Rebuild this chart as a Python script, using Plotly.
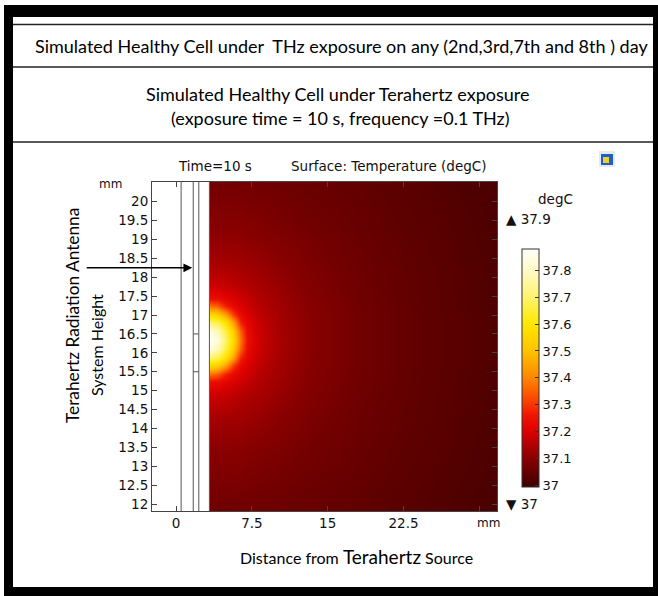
import plotly.graph_objects as go

# ---------------- data ----------------
x_grid_mm = [3.3, 4.1, 4.9, 5.7, 6.4, 7.1, 8.25, 10.2, 13.2, 18.1, 24.1, 32.0]
y_grid_mm = [11.80, 13.43, 14.30, 14.88, 15.23, 15.44, 15.64, 15.87, 16.11, 16.34,
             16.57, 16.81, 17.04, 17.24, 17.45, 17.80, 18.38, 19.25, 20.55]
temperature_degC = [
    [37.062, 37.062, 37.062, 37.061, 37.061, 37.060, 37.059, 37.056, 37.051, 37.041, 37.026, 37.009],
    [37.100, 37.100, 37.100, 37.100, 37.100, 37.094, 37.090, 37.082, 37.069, 37.053, 37.035, 37.014],
    [37.137, 37.136, 37.134, 37.131, 37.128, 37.124, 37.117, 37.101, 37.082, 37.058, 37.039, 37.015],
    [37.180, 37.178, 37.172, 37.164, 37.154, 37.146, 37.136, 37.117, 37.090, 37.061, 37.040, 37.017],
    [37.240, 37.232, 37.215, 37.200, 37.184, 37.169, 37.146, 37.124, 37.094, 37.063, 37.041, 37.017],
    [37.374, 37.348, 37.273, 37.228, 37.205, 37.184, 37.154, 37.128, 37.096, 37.064, 37.041, 37.017],
    [37.550, 37.518, 37.430, 37.299, 37.228, 37.200, 37.164, 37.131, 37.098, 37.065, 37.042, 37.018],
    [37.700, 37.664, 37.576, 37.430, 37.273, 37.215, 37.172, 37.134, 37.099, 37.065, 37.042, 37.018],
    [37.830, 37.776, 37.664, 37.518, 37.348, 37.232, 37.178, 37.136, 37.100, 37.065, 37.042, 37.018],
    [37.870, 37.830, 37.700, 37.550, 37.374, 37.240, 37.180, 37.137, 37.100, 37.065, 37.042, 37.018],
    [37.830, 37.776, 37.664, 37.518, 37.348, 37.232, 37.178, 37.136, 37.100, 37.065, 37.042, 37.018],
    [37.700, 37.664, 37.576, 37.430, 37.273, 37.215, 37.172, 37.134, 37.099, 37.065, 37.042, 37.018],
    [37.550, 37.518, 37.430, 37.299, 37.228, 37.200, 37.164, 37.131, 37.098, 37.065, 37.042, 37.018],
    [37.374, 37.348, 37.273, 37.228, 37.205, 37.184, 37.154, 37.128, 37.096, 37.064, 37.041, 37.017],
    [37.240, 37.232, 37.215, 37.200, 37.184, 37.169, 37.146, 37.124, 37.094, 37.063, 37.041, 37.017],
    [37.180, 37.178, 37.172, 37.164, 37.154, 37.146, 37.136, 37.117, 37.090, 37.061, 37.040, 37.017],
    [37.137, 37.136, 37.134, 37.131, 37.128, 37.124, 37.117, 37.101, 37.082, 37.058, 37.039, 37.015],
    [37.100, 37.100, 37.100, 37.100, 37.100, 37.094, 37.090, 37.082, 37.069, 37.053, 37.035, 37.014],
    [37.068, 37.068, 37.068, 37.067, 37.067, 37.066, 37.064, 37.060, 37.054, 37.043, 37.029, 37.010],
]
t_min, t_max = 36.993, 37.88
colorbar_ticks = [37.0, 37.1, 37.2, 37.3, 37.4, 37.5, 37.6, 37.7, 37.8]
colorbar_labels = ["37", "37.1", "37.2", "37.3", "37.4", "37.5", "37.6", "37.7", "37.8"]

x_ticks = [0, 7.5, 15, 22.5, 30]
x_ticklabels = ["0", "7.5", "15", "22.5", ""]
y_ticks = [12, 12.5, 13, 13.5, 14, 14.5, 15, 15.5, 16, 16.5, 17, 17.5, 18, 18.5, 19, 19.5, 20, 20.5]
y_ticklabels = ["12", "12.5", "13", "13.5", "14", "14.5", "15", "15.5", "16", "16.5",
                "17", "17.5", "18", "18.5", "19", "19.5", "20", ""]

# geometry boundaries of the model (mm)
boundary_x = [0.5, 1.7, 2.25, 3.3]
segment_y = [15.5, 16.5]
segment_x = [1.7, 2.25]
arrow_target = (1.6, 18.25)

x_range = [-2.38, 31.75]
y_range = [11.815, 20.52]

thermal_light = [
    [0.000, "rgb(62,0,0)"],
    [0.121, "rgb(138,0,0)"],
    [0.233, "rgb(220,0,0)"],
    [0.300, "rgb(240,20,0)"],
    [0.346, "rgb(248,55,0)"],
    [0.459, "rgb(255,135,0)"],
    [0.572, "rgb(255,195,0)"],
    [0.684, "rgb(255,232,0)"],
    [0.797, "rgb(255,243,110)"],
    [0.910, "rgb(255,250,200)"],
    [1.000, "rgb(255,255,250)"],
]

# ---------------- layout helpers ----------------
W, H = 658, 596
L, T, R, B = 152, 182, 497, 511


def px(xp):
    return (xp - L) / (R - L)


def py(yp):
    return (B - yp) / (B - T)


DEJAVU = "DejaVu Sans"
CAL = "Lato, Carlito, Calibri, sans-serif"

fig = go.Figure()
fig.add_trace(go.Contour(
    x=x_grid_mm, y=y_grid_mm, z=temperature_degC,
    zmin=t_min, zmax=t_max, colorscale=thermal_light,
    contours=dict(coloring="heatmap", showlines=False),
    line=dict(width=0),
    hoverinfo="skip",
    colorbar=dict(
        thickness=17, thicknessmode="pixels",
        len=238, lenmode="pixels",
        x=px(522), xanchor="left", xpad=0,
        y=py(249), yanchor="top", ypad=0,
        outlinecolor="#333", outlinewidth=1,
        tickvals=colorbar_ticks, ticktext=colorbar_labels,
        ticks="inside", ticklen=4, tickcolor="#333",
        tickfont=dict(family=DEJAVU, size=13, color="#111"),
    ),
))

shapes = []
# geometry lines
for bx in boundary_x:
    shapes.append(dict(type="line", xref="x", yref="paper", x0=bx, x1=bx, y0=0, y1=1,
                       line=dict(color="#555", width=1)))
for sy in segment_y:
    shapes.append(dict(type="line", xref="x", yref="y", x0=segment_x[0], x1=segment_x[1],
                       y0=sy, y1=sy, line=dict(color="#555", width=1)))

# outer black frame
for (x0, x1, y0, y1) in [(4, 658, 5, 17), (4, 13, 5, 596), (653, 658, 5, 596), (4, 658, 587, 596)]:
    shapes.append(dict(type="rect", xref="paper", yref="paper",
                       x0=px(x0), x1=px(x1), y0=py(y1), y1=py(y0),
                       fillcolor="black", line=dict(width=0), layer="above"))
# header separator lines
for yl in [24.5, 67, 142]:
    shapes.append(dict(type="line", xref="paper", yref="paper",
                       x0=px(13), x1=px(653), y0=py(yl), y1=py(yl),
                       line=dict(color="#222", width=1.5)))
# small logo
shapes.append(dict(type="rect", xref="paper", yref="paper", x0=px(599), x1=px(615),
                   y0=py(167), y1=py(151), fillcolor="#e6e9f0", line=dict(width=0)))
shapes.append(dict(type="rect", xref="paper", yref="paper", x0=px(601), x1=px(613),
                   y0=py(165), y1=py(154), fillcolor="#1f5fc8", line=dict(width=0)))
shapes.append(dict(type="rect", xref="paper", yref="paper", x0=px(603), x1=px(609),
                   y0=py(163), y1=py(157), fillcolor="#f3cf2a", line=dict(width=0)))

annotations = []


def txt(text, x, y, size, family=DEJAVU, xanchor="center", textangle=0, color="#111"):
    annotations.append(dict(text=text, xref="paper", yref="paper", x=px(x), y=py(y),
                            xanchor=xanchor, yanchor="middle", showarrow=False,
                            textangle=textangle,
                            font=dict(family=family, size=size, color=color)))


txt("Simulated Healthy Cell under&nbsp; THz exposure on any (2nd,3rd,7th and 8th ) day",
    341, 46, 18, CAL, color="#000")
txt("Simulated Healthy Cell under Terahertz exposure", 338, 94, 18, CAL, color="#000")
txt("(exposure time = 10 s, frequency =0.1 THz)", 340, 118, 18, CAL, color="#000")
txt("Time=10 s", 214.5, 166, 13.5)
txt("Surface: Temperature (degC)", 388.5, 166, 13.5)
txt("mm", 110, 184, 12)
txt("mm", 488, 523, 12)
txt("degC", 555, 199, 13.5)
txt("▲ 37.9", 504, 219, 13.5, xanchor="left")
txt("▼ 37", 504, 504, 13.5, xanchor="left")
txt("Terahertz Radiation Antenna", 72, 316, 17.3, CAL, textangle=-90, color="#000")
txt("System Height", 96, 345, 16, CAL, textangle=-90, color="#000")
txt("Distance from <span style='font-size:19px'>Terahertz</span> Source",
    356, 556, 16, CAL, color="#000")

annotations.append(dict(
    x=arrow_target[0], y=arrow_target[1], xref="x", yref="y",
    ax=-107, ay=0, axref="pixel", ayref="pixel",
    text="", showarrow=True, arrowhead=2, arrowsize=1.1, arrowwidth=1.6,
    arrowcolor="#000",
))

fig.update_layout(
    width=W, height=H,
    margin=dict(l=L, r=W - R, t=T, b=H - B, pad=0),
    paper_bgcolor="white", plot_bgcolor="white",
    showlegend=False,
    shapes=shapes, annotations=annotations,
    xaxis=dict(range=x_range, showgrid=False, zeroline=False,
               showline=True, linecolor="#444", linewidth=1, mirror="allticks",
               ticks="inside", ticklen=5, tickcolor="#444",
               tickvals=x_ticks, ticktext=x_ticklabels,
               tickfont=dict(family=DEJAVU, size=13.5, color="#111")),
    yaxis=dict(range=y_range, showgrid=False, zeroline=False,
               showline=True, linecolor="#444", linewidth=1, mirror="allticks",
               ticks="inside", ticklen=5, tickcolor="#444",
               tickvals=y_ticks, ticktext=y_ticklabels,
               tickfont=dict(family=DEJAVU, size=13.5, color="#111")),
)

fig.write_html("out.html")
